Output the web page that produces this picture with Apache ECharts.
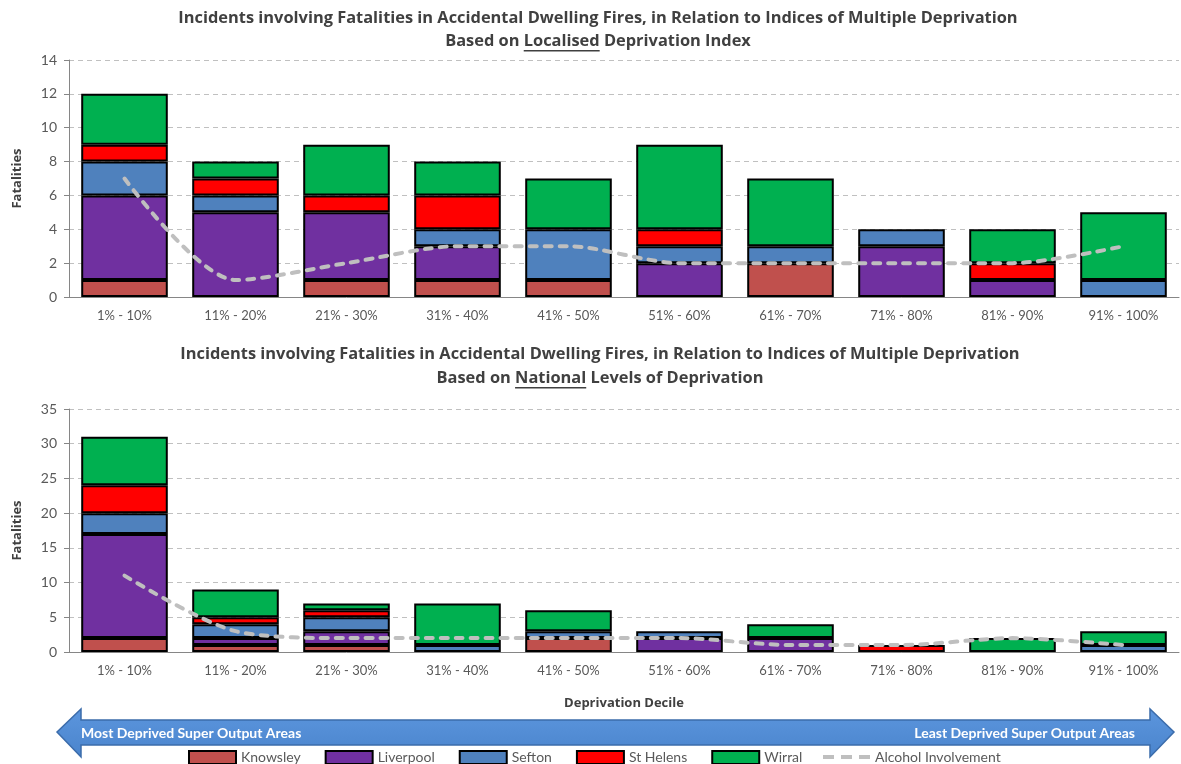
<!DOCTYPE html>
<html>
<head>
<meta charset="utf-8">
<script src="https://cdn.jsdelivr.net/npm/echarts@6/dist/echarts.min.js"></script>
<style>
  html, body { margin: 0; padding: 0; background: #ffffff; }
  #chart { width: 1181px; height: 764px; }
</style>
</head>
<body>
<div id="chart"></div>
<script>
// Deprivation deciles (category axis of both panels)
const deciles = ['1% - 10%', '11% - 20%', '21% - 30%', '31% - 40%', '41% - 50%',
                 '51% - 60%', '61% - 70%', '71% - 80%', '81% - 90%', '91% - 100%'];

// Fatalities by district, localised deprivation index
const localKnowsley  = [1, 0, 1, 1, 1, 0, 2, 0, 0, 0];
const localLiverpool = [5, 5, 4, 2, 0, 2, 0, 3, 1, 0];
const localSefton    = [2, 1, 0, 1, 3, 1, 1, 1, 0, 1];
const localStHelens  = [1, 1, 1, 2, 0, 1, 0, 0, 1, 0];
const localWirral    = [3, 1, 3, 2, 3, 5, 4, 0, 2, 4];
const localAlcohol   = [7, 1, 2, 3, 3, 2, 2, 2, 2, 3];

// Fatalities by district, national levels of deprivation
const natKnowsley  = [2, 1, 1, 0, 2, 0, 0, 0, 0, 0];
const natLiverpool = [15, 1, 2, 0, 0, 2, 2, 0, 0, 0];
const natSefton    = [3, 2, 2, 1, 1, 1, 0, 0, 0, 1];
const natStHelens  = [4, 1, 1, 0, 0, 0, 0, 1, 0, 0];
const natWirral    = [7, 4, 1, 6, 3, 0, 2, 0, 2, 2];
const natAlcohol   = [11, 3, 2, 2, 2, 2, 1, 1, 2, 1];

// Y axis ticks
const localTicks = { max: 14, step: 2 };
const natTicks   = { max: 35, step: 5 };

const districts = ['Knowsley', 'Liverpool', 'Sefton', 'St Helens', 'Wirral'];
const alcoholName = 'Alcohol Involvement';
const districtColors = ['#c0504d', '#7030a0', '#4f81bd', '#ff0000', '#00b050'];

const FONT = 'Lato, "Open Sans", "Liberation Sans", sans-serif';
const HEAD_FONT = '"Open Sans", Lato, "Liberation Sans", sans-serif';
const TEXT_DARK = '#404040';
const TEXT_GREY = '#595959';
const AXIS_GREY = '#868686';
const ALCOHOL_GREY = '#bfbfbf';

function measure(text, size, weight, family) {
  const ctx = document.createElement('canvas').getContext('2d');
  ctx.font = weight + ' ' + size + 'px ' + family;
  return ctx.measureText(text).width;
}

// Two-line panel heading with one underlined word on the second line
function heading(line1, pre, key, post, cx, y1, y2) {
  const size = 16.4;
  const full = pre + key + post;
  const w = measure(full, size, 'bold', HEAD_FONT);
  const ux = cx - w / 2 + measure(pre, size, 'bold', HEAD_FONT);
  const uw = measure(key, size, 'bold', HEAD_FONT);
  const base = { fontSize: size, fontWeight: 'bold', fontFamily: HEAD_FONT, fill: TEXT_DARK,
                 align: 'center', verticalAlign: 'middle' };
  return [
    { type: 'text', x: cx, y: y1, style: Object.assign({ text: line1 }, base) },
    { type: 'text', x: cx, y: y2, style: Object.assign({ text: full }, base) },
    { type: 'rect', shape: { x: ux, y: y2 + 9, width: uw, height: 1.5 },
      style: { fill: TEXT_DARK } }
  ];
}

function xAxisFor(idx, withName) {
  const ax = {
    type: 'category', gridIndex: idx, data: deciles,
    axisLine: { lineStyle: { color: AXIS_GREY, width: 1 } },
    axisTick: { length: 5, lineStyle: { color: AXIS_GREY } },
    axisLabel: { color: TEXT_GREY, fontSize: 13, fontFamily: FONT, margin: 12, interval: 0 }
  };
  if (withName) {
    ax.name = 'Deprivation Decile';
    ax.nameLocation = 'middle';
    ax.nameGap = 45;
    ax.nameTextStyle = { fontSize: 13, fontWeight: 'bold', color: TEXT_DARK, fontFamily: HEAD_FONT };
  }
  return ax;
}

function yAxisFor(idx, ticks) {
  return {
    type: 'value', gridIndex: idx, min: 0, max: ticks.max, interval: ticks.step,
    name: 'Fatalities', nameLocation: 'middle', nameGap: 45, nameRotate: 90,
    nameTextStyle: { fontSize: 13, fontWeight: 'bold', color: TEXT_DARK, fontFamily: HEAD_FONT },
    axisLine: { show: true, lineStyle: { color: AXIS_GREY } },
    axisTick: { show: true, length: 5, lineStyle: { color: AXIS_GREY } },
    axisLabel: { color: TEXT_GREY, fontSize: 14, fontFamily: FONT, margin: 12 },
    splitLine: { lineStyle: { color: '#c0c0c0', type: [5, 4], width: 1 } }
  };
}

function panelSeries(idx, values, alcohol) {
  const out = values.map((vals, k) => ({
    type: 'bar', name: districts[k], xAxisIndex: idx, yAxisIndex: idx,
    stack: 'panel' + idx, barCategoryGap: '22%',
    data: vals.map(v => (v === 0 ? null : v)),
    itemStyle: { color: districtColors[k], borderColor: '#000000', borderWidth: 2 },
    emphasis: { disabled: true }
  }));
  out.push({
    type: 'line', name: alcoholName, xAxisIndex: idx, yAxisIndex: idx,
    data: alcohol, smooth: 0.28, symbol: 'none', z: 5,
    lineStyle: { color: ALCOHOL_GREY, width: 4, type: [7, 8], cap: 'round' },
    itemStyle: { color: ALCOHOL_GREY },
    emphasis: { disabled: true }
  });
  return out;
}

const chart = echarts.init(document.getElementById('chart'), null, { renderer: 'canvas' });

const arrowGraphics = [
  {
    type: 'polygon', z: 0,
    shape: { points: [[57, 732], [81, 709], [81, 720], [1150, 720], [1150, 709], [1174, 732],
                      [1150, 757], [1150, 745], [81, 745], [81, 757]] },
    style: { fill: new echarts.graphic.LinearGradient(0, 0, 0, 1, [
               { offset: 0, color: '#5c96de' }, { offset: 1, color: '#4a84cc' }]),
             stroke: '#3b6cab', lineWidth: 1.5 }
  },
  { type: 'text', x: 81, y: 733, z: 1,
    style: { text: 'Most Deprived Super Output Areas', fontSize: 14, fontWeight: 'bold',
             fontFamily: FONT, fill: '#ffffff', align: 'left', verticalAlign: 'middle' } },
  { type: 'text', x: 1135, y: 733, z: 1,
    style: { text: 'Least Deprived Super Output Areas', fontSize: 14, fontWeight: 'bold',
             fontFamily: FONT, fill: '#ffffff', align: 'right', verticalAlign: 'middle' } }
];

const legendText = { fontSize: 14, color: TEXT_GREY, fontFamily: FONT };

chart.setOption({
  animation: false,
  backgroundColor: '#ffffff',
  grid: [
    { left: 69, right: 2, top: 60, height: 237 },
    { left: 69, right: 2, top: 409, height: 243 }
  ],
  xAxis: [xAxisFor(0, false), xAxisFor(1, true)],
  yAxis: [yAxisFor(0, localTicks), yAxisFor(1, natTicks)],
  legend: [
    {
      left: 183, top: 745, itemWidth: 47, itemHeight: 13, itemGap: 24, icon: 'rect',
      data: districts, textStyle: legendText, selectedMode: false
    },
    {
      left: 818, top: 745, itemWidth: 47, itemHeight: 4, itemGap: 24,
      data: [{ name: alcoholName,
               icon: 'path://M0,0h11v4h-11z M18,0h11v4h-11z M36,0h11v4h-11z' }],
      itemStyle: { color: ALCOHOL_GREY },
      textStyle: legendText, selectedMode: false
    }
  ],
  graphic: heading('Incidents involving Fatalities in Accidental Dwelling Fires, in Relation to Indices of Multiple Deprivation',
                   'Based on ', 'Localised', ' Deprivation Index', 598, 18, 41)
    .concat(heading('Incidents involving Fatalities in Accidental Dwelling Fires, in Relation to Indices of Multiple Deprivation',
                    'Based on ', 'National', ' Levels of Deprivation', 600, 354, 378))
    .concat(arrowGraphics),
  series: panelSeries(0, [localKnowsley, localLiverpool, localSefton, localStHelens, localWirral], localAlcohol)
    .concat(panelSeries(1, [natKnowsley, natLiverpool, natSefton, natStHelens, natWirral], natAlcohol))
});
</script>
</body>
</html>
